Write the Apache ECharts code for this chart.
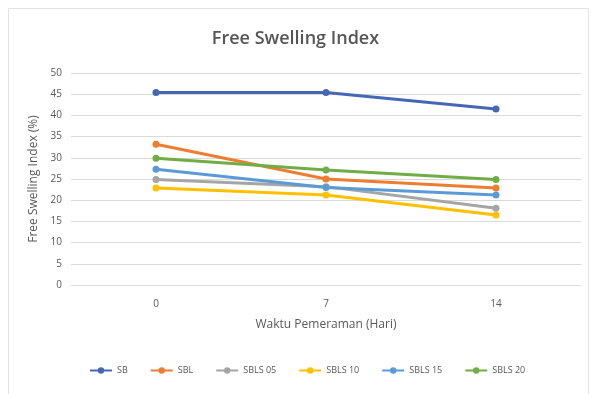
<!DOCTYPE html>
<html>
<head>
<meta charset="utf-8">
<script src="https://cdn.jsdelivr.net/npm/echarts@6/dist/echarts.min.js"></script>
<style>
  html, body { margin: 0; padding: 0; background: #ffffff; }
  #chart { width: 591px; height: 394px; }
</style>
</head>
<body>
<div id="chart"></div>
<script>
// Curing time (days) on the x axis
const categories = ['0', '7', '14'];

// Free swelling index (%) per mix
const seriesNames = ['SB', 'SBL', 'SBLS 05', 'SBLS 10', 'SBLS 15', 'SBLS 20'];
const sbValues     = [45.4, 45.4, 41.5];
const sblValues    = [33.2, 25.0, 22.9];
const sbls05Values = [24.9, 23.2, 18.1];
const sbls10Values = [22.9, 21.2, 16.5];
const sbls15Values = [27.3, 23.0, 21.2];
const sbls20Values = [29.9, 27.1, 24.9];

const seriesValues = [sbValues, sblValues, sbls05Values, sbls10Values, sbls15Values, sbls20Values];
const colors = ['#4468B4', '#ED7D31', '#A5A5A5', '#FFC000', '#5B9BD5', '#70AD47'];

const fontFamily = '"Open Sans", "Liberation Sans", sans-serif';
const chart = echarts.init(document.getElementById('chart'), null, { renderer: 'canvas' });

chart.setOption({
  animation: false,
  backgroundColor: '#ffffff',
  color: colors,
  graphic: [{
    type: 'rect',
    shape: { x: 8.5, y: 8.5, width: 580, height: 400 },
    style: { fill: 'none', stroke: '#e2e2e2', lineWidth: 1 },
    silent: true
  }],
  title: {
    text: 'Free Swelling Index',
    left: 'center',
    top: 25,
    textStyle: { fontFamily, fontSize: 18, fontWeight: 600, color: '#555555' }
  },
  legend: {
    bottom: 14,
    left: 84,
    itemWidth: 22,
    itemHeight: 8,
    itemGap: 22,
    data: seriesNames,
    textStyle: { fontFamily, fontSize: 9, color: '#595959' }
  },
  grid: { left: 71, right: 10, top: 73, bottom: 109 },
  xAxis: {
    type: 'category',
    data: categories,
    name: 'Waktu Pemeraman (Hari)',
    nameLocation: 'middle',
    nameGap: 34,
    nameTextStyle: { fontFamily, fontSize: 12, color: '#595959' },
    axisLine: { lineStyle: { color: '#d9d9d9' } },
    axisTick: { show: false },
    axisLabel: { fontFamily, fontSize: 10, color: '#595959', margin: 14 }
  },
  yAxis: {
    type: 'value',
    min: 0,
    max: 50,
    interval: 5,
    name: 'Free Swelling Index (%)',
    nameLocation: 'middle',
    nameGap: 28,
    nameTextStyle: { fontFamily, fontSize: 12, color: '#595959' },
    axisLine: { show: false },
    axisTick: { show: false },
    axisLabel: { fontFamily, fontSize: 10, color: '#595959', margin: 9 },
    splitLine: { lineStyle: { color: '#d9d9d9', width: 1 } }
  },
  series: seriesNames.map((name, i) => ({
    name,
    type: 'line',
    data: seriesValues[i],
    symbol: 'circle',
    symbolSize: 7,
    lineStyle: { width: 3 },
    itemStyle: { color: colors[i] }
  }))
});
</script>
</body>
</html>
